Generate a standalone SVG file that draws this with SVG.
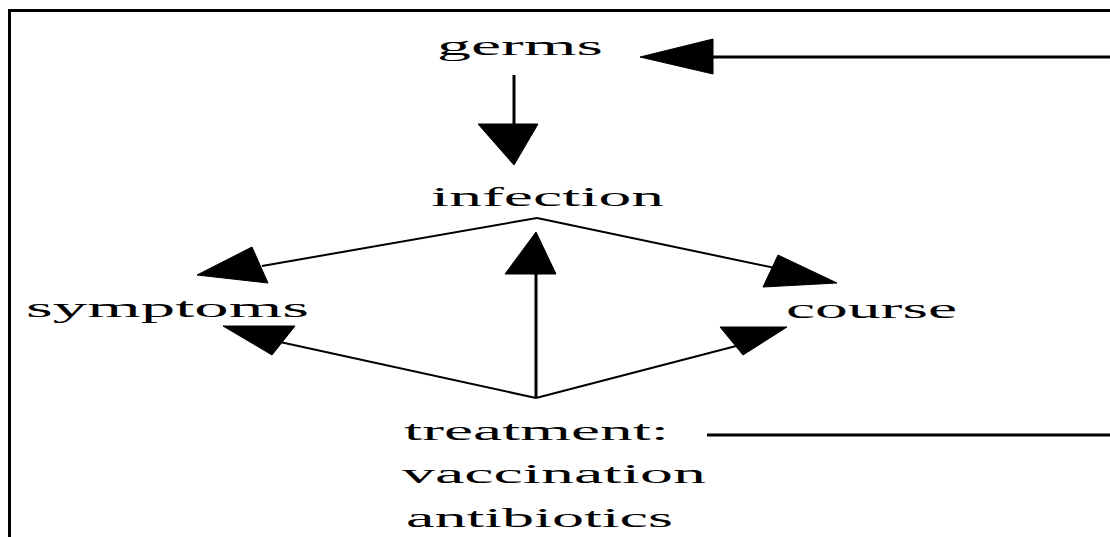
<svg xmlns="http://www.w3.org/2000/svg" width="1110" height="537" viewBox="0 0 1110 537">
<style>
.t{font-family:"Liberation Serif","Times New Roman",serif;font-size:28px;fill:#000}
.ln{stroke:#000;fill:none;stroke-width:2}
.th{stroke:#000;fill:none;stroke-width:3}
.ah{fill:#000;stroke:#000;stroke-width:1;stroke-linejoin:round}
</style>
<rect width="1110" height="537" fill="#fff"/>
<path d="M9.5,537 V10.5 H1110" fill="none" stroke="#000" stroke-width="3"/>
<g id="germs"><text class="t" x="437" y="55" textLength="166" lengthAdjust="spacingAndGlyphs">germs</text></g>
<g id="infection"><text class="t" x="431" y="206" textLength="233" lengthAdjust="spacingAndGlyphs">infection</text></g>
<g id="symptoms"><text class="t" x="26" y="317" textLength="283" lengthAdjust="spacingAndGlyphs">symptoms</text></g>
<g id="course"><text class="t" x="786" y="318" textLength="171" lengthAdjust="spacingAndGlyphs">course</text></g>
<g id="treatment">
<text class="t" x="404" y="440" textLength="265" lengthAdjust="spacingAndGlyphs">treatment:</text>
<text class="t" x="402" y="483" textLength="304" lengthAdjust="spacingAndGlyphs">vaccination</text>
<text class="t" x="406" y="527" textLength="267" lengthAdjust="spacingAndGlyphs">antibiotics</text>
</g>
<g id="connectors">
<line class="th" x1="700" y1="57" x2="1110" y2="57"/>
<polygon class="ah" points="640,57 713,39 713,74"/>
<line class="th" x1="514" y1="75" x2="514" y2="130"/>
<polygon class="ah" points="514,165 478,124 538,124"/>
<line class="ln" x1="537" y1="218" x2="262" y2="266"/>
<polygon class="ah" points="197,275 252,247 268,283"/>
<line class="ln" x1="537" y1="218" x2="775" y2="268"/>
<polygon class="ah" points="837,283 778,255 763,287"/>
<line class="th" x1="536" y1="398" x2="536" y2="268"/>
<polygon class="ah" points="536,232 505,274 556,274"/>
<line class="ln" x1="536" y1="398" x2="280" y2="342"/>
<polygon class="ah" points="223,326 295,326 272,355"/>
<line class="ln" x1="536" y1="398" x2="740" y2="345"/>
<polygon class="ah" points="787,327 720,327 743,355"/>
<line class="th" x1="707" y1="435" x2="1110" y2="435"/>
</g>
</svg>
